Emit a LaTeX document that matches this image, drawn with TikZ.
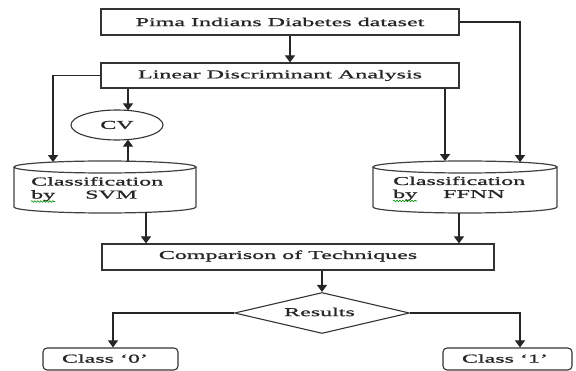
\documentclass[tikz,border=0pt]{standalone}
\usepackage{fontspec}
\setmainfont{Liberation Serif}[FakeStretch=2.0, FakeBold=1.2]
\usetikzlibrary{arrows.meta,shapes.geometric,decorations.pathmorphing}

\begin{document}
\begin{tikzpicture}[x=1pt,y=-1pt,
  every node/.style={font=\fontsize{12}{14}\selectfont, text=black!85},
  box/.style={draw=black!80, line width=1.1pt, rectangle, inner sep=0pt},
  rbox/.style={box, rounded corners=4pt},
  cyl/.style={draw=black!75, line width=1.2pt},
  arr/.style={draw=black!85, line width=1.1pt, -{Triangle[length=7pt,width=10pt]}},
  wavy/.style={draw=green!55!black, line width=0.6pt,
    decorate, decoration={snake, amplitude=0.8pt, segment length=3pt}},
  ctext/.style={anchor=base west, inner sep=0pt}]

\useasboundingbox (0,0) rectangle (576,371);

% main boxes
\node[box, minimum width=358pt, minimum height=26pt] (pima) at (280,22)
  {Pima Indians Diabetes dataset};
\node[box, minimum width=358pt, minimum height=25pt] (lda) at (280,75.5)
  {Linear Discriminant Analysis};
\node[draw=black!80, line width=1.1pt, ellipse, inner sep=0pt,
  minimum width=92pt, minimum height=30pt] (cv) at (117,125) {CV};
\node[box, minimum width=392pt, minimum height=26pt] (cmp) at (298,257) {};
\node[inner sep=0pt] (cmptext) at (288,256) {Comparison of Techniques};
\node[draw=black!80, line width=1.1pt, diamond, aspect=4.2, inner sep=0pt,
  minimum width=175pt, minimum height=41pt] (res) at (322,313) {};
\node[inner sep=0pt] (restext) at (319.5,312) {Results};
\node[rbox, minimum width=135pt, minimum height=22pt] (c0) at (110.5,359) {};
\node[inner sep=0pt] (c0text) at (105,358.5) {Class ‘0’};
\node[rbox, minimum width=129pt, minimum height=22pt] (c1) at (507.5,359) {};
\node[inner sep=0pt] (c1text) at (505,358.5) {Class ‘1’};

% cylinders (SVM on the left, FFNN on the right)
\node[minimum width=182pt, minimum height=52pt, inner sep=0pt] (svm) at (105,187) {};
\draw[cyl] (14,167) -- (14,207)
  arc[start angle=180, end angle=360, x radius=91pt, y radius=6pt] -- (196,167);
\draw[cyl] (105,167) ellipse[x radius=91pt, y radius=6pt];
\node[ctext] (svm1) at (31,185.5) {Classification};
\node[ctext] (svm2) at (31,198.5) {by};
\node[ctext] (svm3) at (85,198.5) {SVM};
\draw[wavy] (31,201.5) -- (55,201.5);

\node[minimum width=184pt, minimum height=52pt, inner sep=0pt] (ffnn) at (465,187) {};
\draw[cyl] (373,167) -- (373,207)
  arc[start angle=180, end angle=360, x radius=92pt, y radius=6pt] -- (557,167);
\draw[cyl] (465,167) ellipse[x radius=92pt, y radius=6pt];
\node[ctext] (ffnn1) at (393,185) {Classification};
\node[ctext] (ffnn2) at (393,198) {by};
\node[ctext] (ffnn3) at (443,198) {FFNN};
\draw[wavy] (393,201) -- (417,201);

% connector end points on the curved outlines
\coordinate (svmA) at (53,162.1);
\coordinate (svmC) at (128,161.2);
\coordinate (svmOut) at (146,212.4);
\coordinate (ffnnA) at (445,161.1);
\coordinate (ffnnB) at (520,162.2);
\coordinate (ffnnOut) at (459,213);
\coordinate (cvTop) at (128,110.4);
\coordinate (cvBot) at (128,139.6);

% connectors
\draw[arr] ([xshift=10pt]pima.south) -- ([xshift=10pt]lda.north);
\draw[arr] (pima.east) -| (ffnnB);
\draw[arr] (lda.west) -| (svmA);
\draw[arr] (lda.south -| cvTop) -- (cvTop);
\draw[arr] (svmC) -- (cvBot);
\draw[arr] (lda.south -| ffnnA) -- (ffnnA);
\draw[arr] (svmOut) -- (svmOut |- cmp.north);
\draw[arr] (ffnnOut) -- (ffnnOut |- cmp.north);
\draw[arr] (cmp.south -| res.north) -- (res.north);
\draw[arr] (res.west) -| ([xshift=2.5pt]c0.north);
\draw[arr] (res.east) -| ([xshift=12.5pt]c1.north);
\end{tikzpicture}
\end{document}
